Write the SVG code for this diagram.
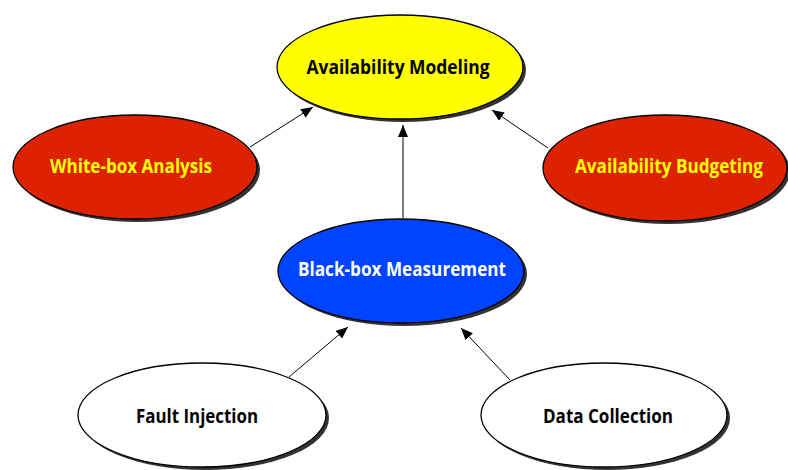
<svg xmlns="http://www.w3.org/2000/svg" width="788" height="470" viewBox="0 0 788 470">
<style>
.sh{fill:#333333;}
.el{stroke:#000000;stroke-width:1.3;}
.t{font-family:"Open Sans","Liberation Sans",sans-serif;font-weight:bold;font-size:19.5px;text-anchor:middle;}
.c{stroke:#000000;stroke-width:1;fill:none;marker-end:url(#ah);}
</style>
<defs>
<marker id="ah" viewBox="0 0 12 10" refX="12" refY="5" markerWidth="12" markerHeight="10" markerUnits="userSpaceOnUse" orient="auto">
<path d="M0,0 L12,5 L0,10 Z" fill="#000000"/>
</marker>
</defs>
<rect width="788" height="470" fill="#ffffff"/>
<g id="connectors">
<line class="c" x1="250" y1="147" x2="313" y2="107"/>
<line class="c" x1="403" y1="218" x2="403" y2="125"/>
<line class="c" x1="548" y1="148" x2="492" y2="110"/>
<line class="c" x1="289" y1="377" x2="348" y2="327"/>
<line class="c" x1="510" y1="380" x2="461" y2="328"/>
</g>
<g id="availability-modeling">
<ellipse class="sh" cx="403" cy="70" rx="123" ry="52"/>
<ellipse class="el" cx="400" cy="67" rx="123" ry="52" fill="#ffff00"/>
<text class="t" x="398" y="74" fill="#000000" textLength="183" lengthAdjust="spacingAndGlyphs">Availability Modeling</text>
</g>
<g id="white-box-analysis">
<ellipse class="sh" cx="138" cy="170" rx="122" ry="52"/>
<ellipse class="el" cx="135" cy="167" rx="122" ry="52" fill="#dd2200"/>
<text class="t" x="131" y="173" fill="#ffff00" textLength="162" lengthAdjust="spacingAndGlyphs">White-box Analysis</text>
</g>
<g id="availability-budgeting">
<ellipse class="sh" cx="668" cy="171" rx="122" ry="53"/>
<ellipse class="el" cx="665" cy="168" rx="122" ry="53" fill="#dd2200"/>
<text class="t" x="669" y="173" fill="#ffff00" textLength="188" lengthAdjust="spacingAndGlyphs">Availability Budgeting</text>
</g>
<g id="black-box-measurement">
<ellipse class="sh" cx="404" cy="274" rx="123" ry="52"/>
<ellipse class="el" cx="401" cy="271" rx="123" ry="52" fill="#0044ff"/>
<text class="t" x="402" y="276" fill="#ffffff" textLength="208" lengthAdjust="spacingAndGlyphs">Black-box Measurement</text>
</g>
<g id="fault-injection">
<ellipse class="sh" cx="205" cy="418" rx="124" ry="52"/>
<ellipse class="el" cx="202" cy="415" rx="124" ry="52" fill="#ffffff"/>
<text class="t" x="197" y="423" fill="#000000" textLength="122" lengthAdjust="spacingAndGlyphs">Fault Injection</text>
</g>
<g id="data-collection">
<ellipse class="sh" cx="607" cy="418" rx="123" ry="52"/>
<ellipse class="el" cx="604" cy="415" rx="123" ry="52" fill="#ffffff"/>
<text class="t" x="608" y="423" fill="#000000" textLength="130" lengthAdjust="spacingAndGlyphs">Data Collection</text>
</g>
</svg>
